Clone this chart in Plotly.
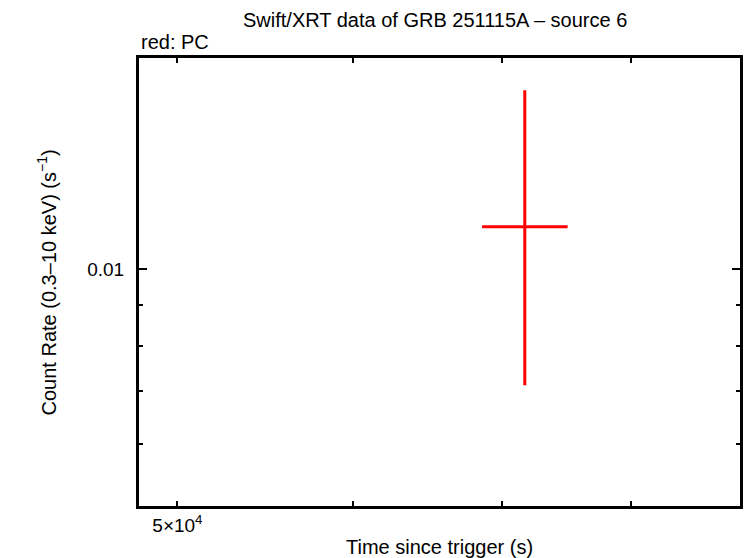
import plotly.graph_objects as go
import math

# Data
time = [71650.0]
time_err_minus = [3100.0]
time_err_plus = [3250.0]
rate = [0.01131]
rate_err_minus = [0.004182]
rate_err_plus = [0.00551]

x_major_vals = [5e4]
x_major_text = ["5×10<sup>4</sup>"]
x_minor_vals = [5e4, 6e4, 7e4, 8e4, 9e4]
y_major_vals = [0.01]
y_major_text = ["0.01"]
y_minor_vals = [0.005, 0.006, 0.007, 0.008, 0.009]

x_range = [48050, 89540]
y_range = [0.005015, 0.01848]

FONT = "Liberation Sans, Arial, Helvetica, sans-serif"

fig = go.Figure()
fig.add_trace(go.Scatter(
    x=time, y=rate, mode="markers",
    marker=dict(size=0.1, color="red", opacity=0),
    error_x=dict(type="data", symmetric=False, array=time_err_plus,
                 arrayminus=time_err_minus, color="red", thickness=3, width=0),
    error_y=dict(type="data", symmetric=False, array=rate_err_plus,
                 arrayminus=rate_err_minus, color="red", thickness=3, width=0),
    showlegend=False, hoverinfo="skip",
))

fig.update_layout(
    width=746, height=558,
    margin=dict(l=139, r=3, t=58, b=52),
    paper_bgcolor="white", plot_bgcolor="white",
    font=dict(family=FONT, size=20, color="black"),
    showlegend=False,
    xaxis=dict(
        type="log", range=[math.log10(x_range[0]), math.log10(x_range[1])],
        showline=True, linecolor="black", linewidth=3, mirror="allticks",
        ticks="inside", ticklen=5, tickwidth=2, tickcolor="black",
        tickmode="array", tickvals=x_major_vals, ticktext=x_major_text,
        tickfont=dict(size=19),
        minor=dict(tickmode="array", tickvals=x_minor_vals, ticks="inside",
                   ticklen=5, tickwidth=2, tickcolor="black", showgrid=False),
        showgrid=False, zeroline=False,
    ),
    yaxis=dict(
        type="log", range=[math.log10(y_range[0]), math.log10(y_range[1])],
        showline=True, linecolor="black", linewidth=3, mirror="allticks",
        ticks="inside", ticklen=8, tickwidth=2, tickcolor="black",
        tickmode="array", tickvals=y_major_vals, ticktext=y_major_text,
        tickfont=dict(size=19), ticklabelstandoff=8,
        minor=dict(tickmode="array", tickvals=y_minor_vals, ticks="inside",
                   ticklen=4, tickwidth=2, tickcolor="black", showgrid=False),
        showgrid=False, zeroline=False,
    ),
    annotations=[
        dict(text="Swift/XRT data of GRB 251115A – source 6", xref="paper", yref="paper",
             x=0.493, y=1.085, xanchor="center", yanchor="middle", showarrow=False,
             font=dict(size=20)),
        dict(text="red: PC", xref="paper", yref="paper",
             x=0.0, y=1.0357, xanchor="left", yanchor="middle", showarrow=False,
             font=dict(size=20)),
        dict(text="Time since trigger (s)", xref="paper", yref="paper",
             x=0.5, y=-0.0915, xanchor="center", yanchor="middle", showarrow=False,
             font=dict(size=20)),
        dict(text="Count Rate (0.3–10 keV) (s<sup>−1</sup>)", xref="paper", yref="paper",
             x=-0.154, y=0.5, xanchor="center", yanchor="middle", showarrow=False,
             textangle=-90, font=dict(size=20)),
    ],
)

fig.write_html("out.html", config={"displayModeBar": False},
               post_script="document.body.style.margin='0';document.body.style.overflow='hidden';")
